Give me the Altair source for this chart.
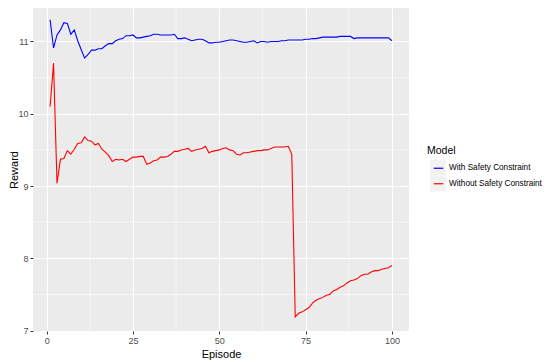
import altair as alt
import pandas as pd

episodes = list(range(1, 101))
with_safety = [
    11.30, 10.91, 11.09, 11.16, 11.26, 11.25, 11.10, 11.16, 11.01, 10.89,
    10.77, 10.82, 10.88, 10.88, 10.90, 10.90, 10.94, 10.97, 10.97, 11.01,
    11.03, 11.04, 11.08, 11.08, 11.09, 11.05, 11.05, 11.06, 11.07, 11.08,
    11.10, 11.10, 11.09, 11.09, 11.09, 11.09, 11.10, 11.04, 11.04, 11.05,
    11.03, 11.01, 11.02, 11.03, 11.03, 11.01, 10.98, 10.98, 10.99, 10.99,
    11.00, 11.01, 11.02, 11.02, 11.01, 11.00, 10.99, 10.99, 11.00, 11.01,
    10.98, 11.00, 11.00, 10.99, 11.00, 11.00, 11.00, 11.01, 11.01, 11.02,
    11.02, 11.02, 11.02, 11.02, 11.03, 11.03, 11.04, 11.04, 11.05, 11.06,
    11.06, 11.06, 11.06, 11.06, 11.07, 11.07, 11.07, 11.07, 11.04, 11.05,
    11.05, 11.05, 11.05, 11.05, 11.05, 11.05, 11.05, 11.05, 11.05, 11.01,
]
without_safety = [
    10.10, 10.70, 9.04, 9.37, 9.38, 9.49, 9.44, 9.51, 9.59, 9.60,
    9.68, 9.63, 9.62, 9.57, 9.59, 9.51, 9.47, 9.42, 9.34, 9.37,
    9.36, 9.37, 9.34, 9.37, 9.40, 9.40, 9.41, 9.41, 9.30, 9.32,
    9.35, 9.36, 9.40, 9.40, 9.41, 9.44, 9.48, 9.48, 9.50, 9.51,
    9.52, 9.48, 9.50, 9.51, 9.52, 9.55, 9.46, 9.48, 9.49, 9.50,
    9.52, 9.53, 9.50, 9.49, 9.44, 9.43, 9.46, 9.46, 9.47, 9.48,
    9.49, 9.49, 9.50, 9.50, 9.52, 9.54, 9.54, 9.54, 9.54, 9.55,
    9.44, 7.19, 7.24, 7.26, 7.29, 7.32, 7.38, 7.42, 7.44, 7.46,
    7.49, 7.50, 7.55, 7.57, 7.60, 7.62, 7.66, 7.69, 7.70, 7.72,
    7.76, 7.78, 7.78, 7.81, 7.83, 7.83, 7.85, 7.86, 7.87, 7.90,
]
models = ["With Safety Constraint", "Without Safety Constraint"]
colors = ["#0000FF", "#FF0000"]
key_fill = ["#F2F2F2", "#F2F2F2"]
x_ticks = [0, 25, 50, 75, 100]
y_ticks = [7, 8, 9, 10, 11]
x_minor = [12.5, 37.5, 62.5, 87.5]
y_minor = [7.5, 8.5, 9.5, 10.5]

df = pd.DataFrame({
    "Episode": episodes * 2,
    "Reward": with_safety + without_safety,
    "Model": [models[0]] * len(episodes) + [models[1]] * len(episodes),
})
key_names = ["k1", "k2"]
df["Key"] = [key_names[0]] * len(episodes) + [key_names[1]] * len(episodes)

font = "Liberation Sans"
xscale = alt.Scale(domain=[-3.95, 104.95], nice=False, zero=False)
yscale = alt.Scale(domain=[6.995, 11.463], nice=False, zero=False)
xaxis = alt.Axis(values=x_ticks, title="Episode", grid=True, format="d")
yaxis = alt.Axis(values=y_ticks, title="Reward", grid=True, format="d")

xminor = alt.Chart(pd.DataFrame({"Episode": x_minor})).mark_rule(
    color="white", strokeWidth=0.55
).encode(x=alt.X("Episode:Q", scale=xscale, axis=xaxis))
yminor = alt.Chart(pd.DataFrame({"Reward": y_minor})).mark_rule(
    color="white", strokeWidth=0.55
).encode(y=alt.Y("Reward:Q", scale=yscale, axis=yaxis))

# invisible layer that only provides the grey legend key boxes
keys = alt.Chart(df).mark_square(opacity=0, filled=True).encode(
    x=alt.X("Episode:Q", scale=xscale, axis=xaxis),
    y=alt.Y("Reward:Q", scale=yscale, axis=yaxis),
    color=alt.Color("Key:N", scale=alt.Scale(domain=key_names, range=key_fill),
                    legend=alt.Legend(title="Model", orient="none",
                                      legendX=394, legendY=138,
                                      symbolType="square", symbolSize=256,
                                      symbolOpacity=1, symbolStrokeWidth=0,
                                      symbolOffset=2.75, titlePadding=3,
                                      rowPadding=0, labelExpr="''",
                                      titleOpacity=0, zindex=0)),
)

lines = alt.Chart(df).mark_line(strokeWidth=1.1, clip=True).encode(
    x=alt.X("Episode:Q", scale=xscale, axis=xaxis),
    y=alt.Y("Reward:Q", scale=yscale, axis=yaxis),
    stroke=alt.Stroke("Model:N", scale=alt.Scale(domain=models, range=colors),
                      legend=alt.Legend(title="Model", orient="none",
                                        legendX=394, legendY=138,
                                        symbolType="stroke", symbolSize=90,
                                        symbolStrokeWidth=1.2, symbolOffset=6,
                                        titlePadding=6.25, rowPadding=6.5,
                                        zindex=1)),
)

chart = alt.layer(xminor, yminor, keys, lines).properties(
    width=376, height=323,
    autosize=alt.AutoSizeParams(type="none"),
    padding={"left": 25, "top": 0, "right": 133, "bottom": 30},
).configure_view(
    fill="#EBEBEB", stroke=None
).configure_axis(
    domain=False,
    gridColor="white", gridWidth=1.1, gridOpacity=1,
    tickColor="#333333", tickSize=3, tickWidth=1,
    labelColor="#4D4D4D", labelFont=font, labelFontSize=9,
    titleFont=font, titleFontSize=11, titleFontWeight="normal", titleColor="black",
    labelPadding=2,
).configure_axisX(
    titlePadding=3,
).configure_axisY(
    titleX=-15.5, titleBaseline="alphabetic",
).configure_legend(
    titleFont=font, titleFontSize=10.5, titleFontWeight="normal", titleColor="black",
    labelFont=font, labelFontSize=8.2, labelColor="black", labelOffset=5,
)

chart.save("out.html", embed_options={"renderer": "svg", "actions": False})
